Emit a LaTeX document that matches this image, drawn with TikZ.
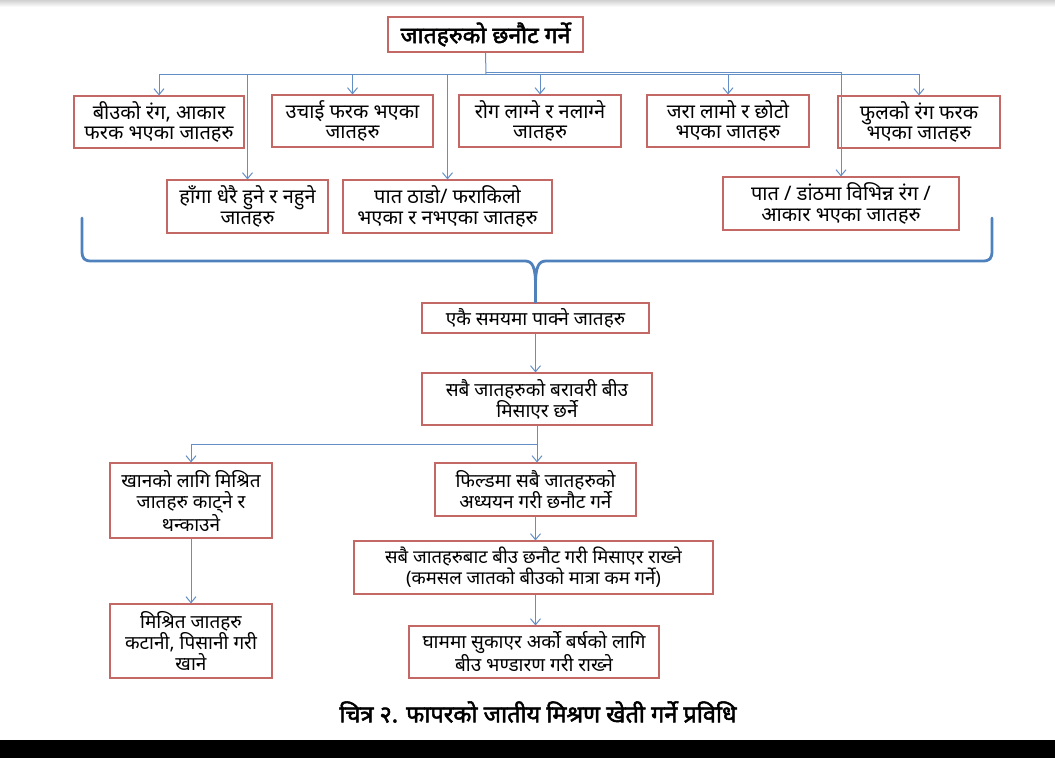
\documentclass[tikz,border=0pt]{standalone}
\usepackage{fontspec}
\setmainfont{Noto Sans}[Script=Devanagari]
\newfontfamily\devbold[Script=Devanagari,FakeBold=2.2]{Noto Sans}
\usetikzlibrary{arrows.meta}
\definecolor{boxred}{RGB}{196,104,102}
\definecolor{linkblue}{RGB}{100,143,198}
\definecolor{braceblue}{RGB}{79,129,189}
\tikzset{
  box/.style={draw=boxred, line width=1.1pt, align=center, inner sep=0pt,
    font=\fontsize{20}{20.5}\selectfont},
  lbox/.style={box, font=\fontsize{19}{21}\selectfont},
  conn/.style={draw=linkblue, line width=1pt},
  arr/.style={conn, -{Straight Barb[length=6pt,width=10pt,line width=1pt]}},
}
\begin{document}
\begin{tikzpicture}[x=1pt,y=-1pt]
\useasboundingbox (0,0) rectangle (1055,758);
\shade[top color=black!18, bottom color=white] (0,0) rectangle (1055,7);
\fill[black] (0,740) rectangle (1055,758);
% title
\node[box, minimum width=195pt, minimum height=35pt, font=\fontsize{23}{26}\devbold] (title) at (485.5,34.5) {जातहरुको छनौट गर्ने};
% top row
\node[box, minimum width=170pt, minimum height=52pt] (b1) at (159,122) {बीउको रंग, आकार\\फरक भएका जातहरु};
\node[box, minimum width=161pt, minimum height=52pt] (b2) at (352.5,121) {उचाई फरक भएका\\जातहरु};
\node[box, minimum width=162pt, minimum height=52pt] (b3) at (540,121) {रोग लाग्ने र नलाग्ने\\जातहरु};
\node[box, minimum width=162pt, minimum height=52pt] (b4) at (728,121) {जरा लामो र छोटो\\भएका जातहरु};
\node[box, minimum width=162pt, minimum height=52pt] (b5) at (919,122) {फुलको रंग फरक\\भएका जातहरु};
% second row
\node[box, minimum width=161pt, minimum height=53pt] (b6) at (247.5,206.5) {हाँगा धेरै हुने र नहुने\\जातहरु};
\node[box, minimum width=209pt, minimum height=53pt] (b7) at (447.5,206.5) {पात ठाडो/ फराकिलो\\भएका र नभएका जातहरु};
\node[box, minimum width=236pt, minimum height=53pt] (b8) at (841,203.5) {पात / डांठमा विभिन्न रंग /\\आकार भएका जातहरु};
% middle
\node[lbox, minimum width=227pt, minimum height=30pt] (c1) at (535.5,318) {एकै समयमा पाक्ने जातहरु};
\node[lbox, minimum width=230pt, minimum height=52pt] (c2) at (537,399) {सबै जातहरुको बरावरी बीउ\\मिसाएर छर्ने};
% lower left
\node[lbox, minimum width=162pt, minimum height=75pt] (l1) at (191,500.5) {खानको लागि मिश्रित\\जातहरु काट्ने र\\थन्काउने};
\node[lbox, minimum width=162pt, minimum height=74pt] (l2) at (191,641) {मिश्रित जातहरु\\कटानी, पिसानी गरी\\खाने};
% lower right
\node[lbox, minimum width=201pt, minimum height=53pt] (r1) at (535.5,489.5) {फिल्डमा सबै जातहरुको\\अध्ययन गरी छनौट गर्ने};
\node[lbox, minimum width=359pt, minimum height=53pt, font=\fontsize{18.5}{21}\selectfont] (r2) at (533.5,567.5) {सबै जातहरुबाट बीउ छनौट गरी मिसाएर राख्ने\\(कमसल जातको बीउको मात्रा कम गर्ने)};
\node[lbox, minimum width=250pt, minimum height=52pt] (r3) at (534,652) {घाममा सुकाएर अर्को बर्षको लागि\\बीउ भण्डारण गरी राख्ने};
% caption
\node[font=\fontsize{23.5}{26}\devbold] (cap) at (538,712) {चित्र २. फापरको जातीय मिश्रण खेती गर्ने प्रविधि};
% top connectors
\coordinate (j) at (486,74);
\coordinate (k) at (486,72);
\draw[conn] (title.south) -- (j);
\draw[conn] (b1.north |- j) -- (b5.north |- j);
\draw[arr] (k) -| (b8.north);
\foreach \b in {b1,b2,b3,b4,b5,b6,b7}{
  \draw[arr] (\b.north |- j) -- (\b.north);
}
% brace
\draw[braceblue, line width=2.8pt, line join=round, line cap=round]
  (82,218) -- (82,250) .. controls (82,259) and (84,261) .. (92,261)
  -- (525,261) .. controls (532,261) and (535.5,266) .. (535.5,285)
  -- (c1.north)
  (535.5,285) .. controls (535.5,266) and (539,261) .. (546,261)
  -- (982,261) .. controls (990,261) and (992,259) .. (992,250) -- (992,218);
% lower connectors
\draw[arr] (c1.south) -- (c1.south |- c2.north);
\coordinate (m) at (537,444);
\draw[conn] (c2.south) -- (m);
\draw[arr] (m) -| (l1.north);
\draw[arr] (m) -- (m |- r1.north);
\draw[arr] (l1.south) -- (l2.north);
\draw[arr] (r1.south) -- (r1.south |- r2.north);
\draw[arr] (r2.south -| r1.south) -- (r1.south |- r3.north);
\end{tikzpicture}
\end{document}
